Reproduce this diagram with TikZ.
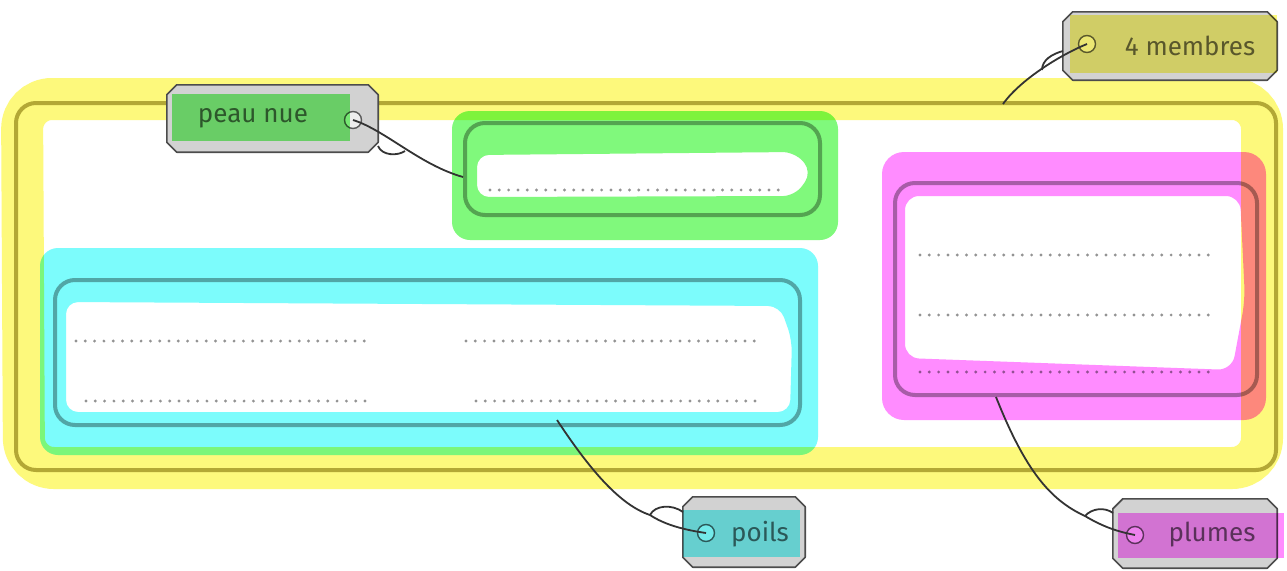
\documentclass[tikz,border=0pt]{standalone}
\usepackage{fontspec}
\setmainfont{Fira Sans}
\usetikzlibrary{calc}
\definecolor{hlY}{HTML}{FDF97C}
\definecolor{hlG}{HTML}{80F97C}
\definecolor{hlC}{HTML}{7CFCFC}
\definecolor{hlM}{HTML}{FF8CFF}
\definecolor{prline}{HTML}{A8A8A8}
\definecolor{outline}{HTML}{B8AE60}
\definecolor{tagfill}{HTML}{D2D2D2}
\definecolor{tagtext}{HTML}{5A5A5A}
\tikzset{
  boxline/.style={draw=prline, line width=4pt, rounded corners=20pt},
  dots/.style={draw=gray!85, line width=3.2pt, line cap=round, dash pattern=on 0pt off 9.3pt},
  tagarea/.style={rectangle, inner sep=0pt},
  tagedge/.style={fill=tagfill, draw=black!70, line width=1.6pt, line join=round},
  ring/.style={circle, draw=tagtext, line width=1.4pt, minimum size=17pt, inner sep=0pt, fill=white!60!tagfill},
  tagtxt/.style={text=tagtext, font=\fontsize{26}{29}\selectfont, inner sep=0pt},
  string/.style={draw=black!80, line width=1.8pt},
  hl/.style={blend mode=multiply}
}
\newcommand{\chamfertag}[1]{%
  \draw[tagedge] ($(#1.north west)+(10,0)$) -- ($(#1.north east)+(-10,0)$) -- ($(#1.north east)+(0,10)$)
    -- ($(#1.south east)+(0,-10)$) -- ($(#1.south east)+(-10,0)$) -- ($(#1.south west)+(10,0)$)
    -- ($(#1.south west)+(0,-10)$) -- ($(#1.north west)+(0,10)$) -- cycle;}
\begin{document}
\begin{tikzpicture}[x=1pt,y=-1pt]
\useasboundingbox (0,0) rectangle (1287,570);
\fill[white] (0,0) rectangle (1287,570);
% printed boxes
\node[boxline, draw=outline!80!prline, minimum width=1260pt, minimum height=367pt] (outer) at (646,286.5) {};
\node[boxline, minimum width=355pt, minimum height=92pt] (green) at (642.5,169) {};
\node[boxline, minimum width=745pt, minimum height=145pt] (cyan) at (427.5,352.5) {};
\node[boxline, minimum width=362pt, minimum height=212pt] (mag) at (1076,289) {};
% dotted lines
\draw[dots] (490,190) -- (784,190);
\draw[dots] (76,341) -- (370,341);
\draw[dots] (466,341) -- (760,341);
\draw[dots] (86,401) -- (370,401);
\draw[dots] (476,401) -- (760,401);
\draw[dots] (920,255) -- (1216,255);
\draw[dots] (920,315) -- (1216,315);
\draw[dots] (920,372) -- (1216,372);
% highlights
\begin{scope}[hl]
\draw[hlY, line width=42pt, rounded corners=30pt] (22,99) -- (1262,99) -- (1262,468) -- (24,468) -- cycle;
\fill[hlG, even odd rule, rounded corners=18pt] (452,111) rectangle (838,240)
  [rounded corners=12pt] (477,155) -- (795,152) -- (812,172) -- (795,196) -- (477,197) -- cycle;
\fill[hlC, even odd rule, rounded corners=18pt] (40,248) rectangle (818,455)
  [rounded corners=12pt] (66,302) -- (780,306) -- (792,340) -- (790,412) -- (66,412) -- cycle;
\fill[hlM, even odd rule, rounded corners=22pt] (882,152) rectangle (1266,420)
  [rounded corners=14pt] (905,196) -- (1240,196) -- (1245,300) -- (1232,370) -- (905,358) -- cycle;
\end{scope}
% tags
\node[tagarea, minimum width=211pt, minimum height=67pt] (tagP) at (272.5,118.5) {};
\node[tagarea, minimum width=214pt, minimum height=68pt] (tagM) at (1170,46) {};
\node[tagarea, minimum width=122pt, minimum height=70pt] (tagO) at (744,532) {};
\node[tagarea, minimum width=164pt, minimum height=69pt] (tagL) at (1195,533.5) {};
\chamfertag{tagP}
\chamfertag{tagM}
\chamfertag{tagO}
\chamfertag{tagL}
\node[ring] (ringP) at (353,120) {};
\node[ring] (ringM) at (1087,44) {};
\node[ring] (ringO) at (706,533) {};
\node[ring] (ringL) at (1135,535) {};
\node[tagtxt] (txtP) at (253,118) {peau nue};
\node[tagtxt] (txtM) at (1190,46) {4 membres};
\node[tagtxt] (txtO) at (760,534) {poils};
\node[tagtxt] (txtL) at (1212,535) {plumes};
\begin{scope}[hl]
\fill[hlG] (172,94) rectangle (350,141);
\fill[hlY] (1070,15) rectangle (1277,73);
\fill[hlC] (683,510) rectangle (800,557);
\fill[hlM] (1118,513) rectangle (1284,558);
\end{scope}
% strings
\coordinate (pA) at ($(green.west)+(0,8)$);
\coordinate (pK) at (378,146);
\coordinate (pL) at (405,151);
\draw[string] (ringP.center) .. controls (385,130) and (420,165) .. (pA);
\draw[string] (pK) .. controls (382,156) and (398,156) .. (pL);
\coordinate (mA) at (1003,104);
\coordinate (mK) at (1042,70);
\coordinate (mL) at (1063,51);
\draw[string] (ringM.center) .. controls (1060,55) and (1020,80) .. (mA);
\draw[string] (mK) .. controls (1042,60) and (1052,54) .. (mL);
\coordinate (oA) at (557,420);
\coordinate (oK) at (650,515);
\coordinate (oL) at (683,512);
\draw[string] (oA) .. controls (590,470) and (620,505) .. (oK) .. controls (665,525) and (685,530) .. (ringO.center);
\draw[string] (oK) .. controls (655,505) and (672,504) .. (oL);
\coordinate (lA) at (996,397);
\coordinate (lK) at (1085,516);
\coordinate (lL) at (1113,513);
\draw[string] (lA) .. controls (1025,470) and (1050,500) .. (lK) .. controls (1105,528) and (1120,532) .. (ringL.center);
\draw[string] (lK) .. controls (1092,508) and (1105,507) .. (lL);
\end{tikzpicture}
\end{document}
